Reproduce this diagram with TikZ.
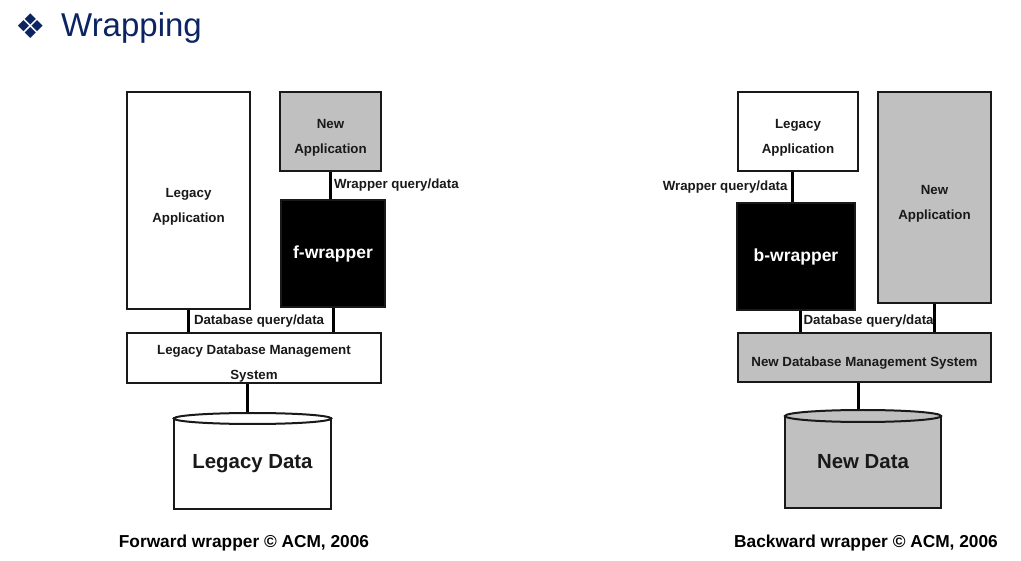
\documentclass[tikz,border=0pt]{standalone}
\usepackage{fontspec}
\setmainfont{Liberation Sans}
\newfontfamily\symfont{DejaVu Sans}
\usetikzlibrary{shapes.geometric,calc}
\definecolor{titleblue}{RGB}{12,36,97}
\definecolor{boxgrey}{RGB}{192,192,192}
\definecolor{inkc}{RGB}{25,25,25}
\newcommand\tpad{\rule{0pt}{21pt}}
\begin{document}
\begin{tikzpicture}[x=1pt,y=-1pt,
  box/.style={draw=inkc, line width=2pt, inner sep=0pt, align=center,
    font=\fontsize{13.3}{25}\selectfont\bfseries, text=inkc},
  whitebox/.style={box, fill=white},
  greybox/.style={box, fill=boxgrey},
  blackbox/.style={box, fill=black, text=white, font=\fontsize{17.5}{20}\selectfont\bfseries},
  link/.style={draw=black, line width=3pt},
  lab/.style={font=\fontsize{13.3}{16}\selectfont\bfseries, text=inkc, inner sep=0pt},
  capt/.style={font=\fontsize{17.3}{20}\selectfont\bfseries, text=black, inner sep=0pt},
  databody/.style={box, font=\fontsize{20.4}{24}\selectfont\bfseries},
  dtop/.style={ellipse, draw=inkc, line width=2pt, inner sep=0pt},
]
\fill[white] (0,0) rectangle (1021,561);

% title
\node[font=\symfont\fontsize{34}{36}\selectfont, text=titleblue, inner sep=0pt] (bullet) at (30.5,26) {❖};
\node[anchor=base west, font=\fontsize{33}{36}\selectfont, text=titleblue, inner sep=0pt] (title) at (61,37) {Wrapping};

% ---------- forward wrapper ----------
\node[whitebox, minimum width=123, minimum height=217] (lapp) at (188.5,200.5) {\tpad Legacy\\Application};
\node[greybox, minimum width=101, minimum height=79] (nappl) at (330.5,131.5) {\tpad New\\Application};
\node[blackbox, minimum width=104, minimum height=107] (fw) at (333,253.5) {f-wrapper};
\node[whitebox, minimum width=254, minimum height=50] (ldbms) at (254,358) {\tpad Legacy Database Management\\System};
\node[databody, fill=white, minimum width=157, minimum height=90.5] (ldata) at (252.5,463.75) {Legacy Data};
\node[dtop, fill=white, minimum width=157, minimum height=11] (ltop) at (252.5,418.5) {};

\draw[link] (nappl.south) -- (nappl.south |- fw.north)
  node[lab, midway, anchor=west, xshift=2pt] (wql) {Wrapper query/data};
\draw[link] (lapp.south) -- (lapp.south |- ldbms.north)
  node[lab, midway, anchor=west, xshift=4pt] (dql) {Database query/data};
\draw[link] (fw.south) -- (fw.south |- ldbms.north);
\draw[link] ([xshift=-5.5pt]ltop.north) -- ([xshift=-5.5pt]ltop.north |- ldbms.south);

\node[capt] (capl) at (244,543) {Forward wrapper © ACM, 2006};

% ---------- backward wrapper ----------
\node[whitebox, minimum width=120, minimum height=79] (rlapp) at (798,131.5) {\tpad Legacy\\Application};
\node[greybox, minimum width=113, minimum height=211] (rnapp) at (934.5,197.5) {\tpad New\\Application};
\node[blackbox, minimum width=118, minimum height=107] (bw) at (796,256.5) {b-wrapper};
\node[greybox, minimum width=253, minimum height=49] (rdbms) at (864.5,357.5) {\tpad New Database Management System};
\node[databody, fill=boxgrey, minimum width=156, minimum height=92] (rdata) at (863,462) {New Data};
\node[dtop, fill=boxgrey, minimum width=156, minimum height=12] (rtop) at (863,416) {};

\draw[link] ([xshift=-4pt]bw.north) -- ([xshift=-4pt]bw.north |- rlapp.south)
  node[lab, midway, anchor=east, xshift=-3pt] (wqr) {Wrapper query/data};
\draw[link] ([xshift=4pt]bw.south) -- ([xshift=4pt]bw.south |- rdbms.north)
  node[lab, midway, anchor=west, xshift=2pt] (dqr) {Database query/data};
\draw[link] (rnapp.south) -- (rnapp.south |- rdbms.north);
\draw[link] ([xshift=-5pt]rtop.north) -- ([xshift=-5pt]rtop.north |- rdbms.south);

\node[capt] (capr) at (866,543) {Backward wrapper © ACM, 2006};
\end{tikzpicture}
\end{document}
